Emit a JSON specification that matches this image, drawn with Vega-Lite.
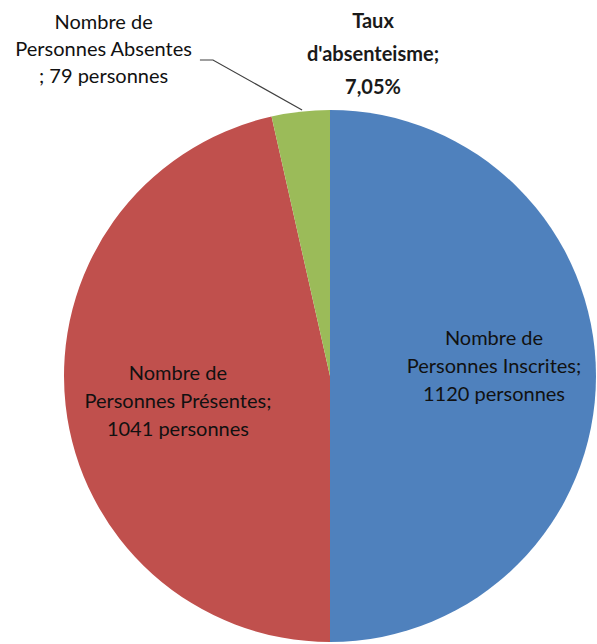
{
  "$schema": "https://vega.github.io/schema/vega-lite/v6.json",
  "width": 532,
  "height": 532,
  "autosize": {"type": "none"},
  "padding": {"left": 64, "top": 110, "right": 1, "bottom": 2},
  "background": "white",
  "config": {"view": {"stroke": null}},
  "title": {
    "text": ["Taux", "d'absenteisme;", "7,05%"],
    "font": "Lato",
    "fontSize": 20,
    "fontWeight": "bold",
    "color": "#1a1a1a",
    "lineHeight": 33,
    "anchor": "middle",
    "dx": 43,
    "dy": 96,
    "offset": 11
  },
  "datasets": {
    "slices": [
      {"ord": 1, "cat": "Nombre de Personnes Inscrites", "n": 1120, "label": "Nombre de\nPersonnes Inscrites;\n1120 personnes"},
      {"ord": 2, "cat": "Nombre de Personnes Présentes", "n": 1041, "label": "Nombre de\nPersonnes Présentes;\n1041 personnes"},
      {"ord": 3, "cat": "Nombre de Personnes Absentes", "n": 79, "label": "Nombre de\nPersonnes Absentes\n; 79 personnes"}
    ],
    "leader": [
      {"i": 1, "px": -0.105, "py": 1.0},
      {"i": 2, "px": -0.44, "py": 1.188},
      {"i": 3, "px": -0.489, "py": 1.188}
    ]
  },
  "layer": [
    {
      "data": {"name": "slices"},
      "mark": {"type": "arc", "outerRadius": 266},
      "encoding": {
        "theta": {"field": "n", "type": "quantitative", "stack": true},
        "order": {"field": "ord", "type": "quantitative"},
        "color": {
          "field": "cat",
          "type": "nominal",
          "scale": {
            "domain": ["Nombre de Personnes Inscrites", "Nombre de Personnes Présentes", "Nombre de Personnes Absentes"],
            "range": ["#4F81BD", "#C0504D", "#9BBB59"]
          },
          "legend": null
        }
      }
    },
    {
      "data": {"name": "slices"},
      "mark": {"type": "text", "radius": 164, "dy": -37, "font": "Lato", "fontSize": 20, "lineBreak": "\n", "lineHeight": 28, "color": "#111"},
      "encoding": {
        "theta": {"field": "n", "type": "quantitative", "stack": true},
        "order": {"field": "ord", "type": "quantitative"},
        "text": {"condition": {"test": "datum.ord === 1", "field": "label"}, "value": ""}
      }
    },
    {
      "data": {"name": "slices"},
      "mark": {"type": "text", "radius": 150, "dy": -19, "dx": -3, "font": "Lato", "fontSize": 20, "lineBreak": "\n", "lineHeight": 28, "color": "#111"},
      "encoding": {
        "theta": {"field": "n", "type": "quantitative", "stack": true},
        "order": {"field": "ord", "type": "quantitative"},
        "text": {"condition": {"test": "datum.ord === 2", "field": "label"}, "value": ""}
      }
    },
    {
      "data": {"name": "slices"},
      "mark": {"type": "text", "radius": 266, "dy": -89, "dx": -197, "font": "Lato", "fontSize": 20, "lineBreak": "\n", "lineHeight": 27, "color": "#111"},
      "encoding": {
        "theta": {"field": "n", "type": "quantitative", "stack": true},
        "order": {"field": "ord", "type": "quantitative"},
        "text": {"condition": {"test": "datum.ord === 3", "field": "label"}, "value": ""}
      }
    },
    {
      "data": {"name": "leader"},
      "mark": {"type": "line", "color": "#404040", "strokeWidth": 1.2, "clip": false},
      "encoding": {
        "x": {"field": "px", "type": "quantitative", "scale": {"domain": [-1, 1], "nice": false, "zero": false}, "axis": null},
        "y": {"field": "py", "type": "quantitative", "scale": {"domain": [-1, 1], "nice": false, "zero": false}, "axis": null},
        "order": {"field": "i", "type": "quantitative"}
      }
    }
  ]
}
